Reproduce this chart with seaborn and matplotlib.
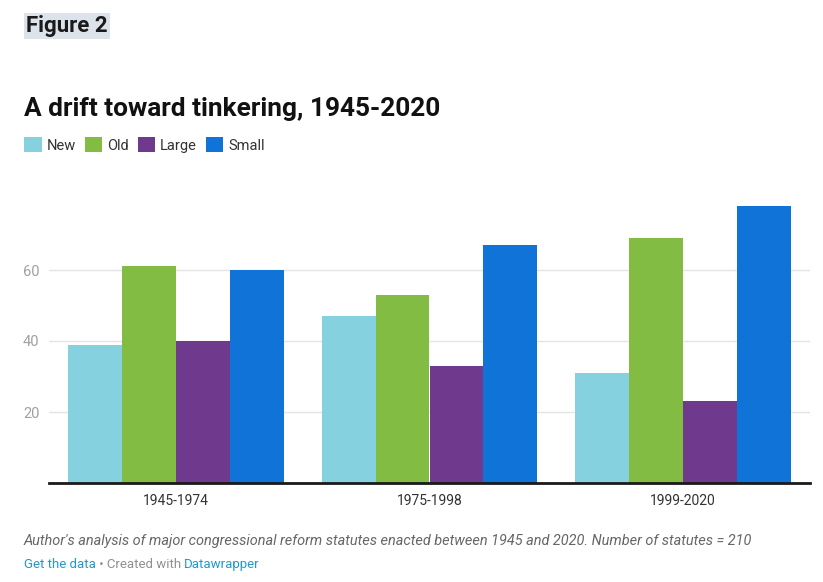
import matplotlib
matplotlib.use("Agg")
import matplotlib.pyplot as plt
import seaborn as sns
import pandas as pd
from matplotlib.patches import Patch

periods = ["1945-1974", "1975-1998", "1999-2020"]
series = ["New", "Old", "Large", "Small"]
new_vals = [39, 47, 31]
old_vals = [61, 53, 69]
large_vals = [40, 33, 23]
small_vals = [60, 67, 78]
colors = ["#86d1e0", "#82bc43", "#6f3a8e", "#1073d8"]
y_ticks = [20, 40, 60]

rows = []
for s, vals in zip(series, [new_vals, old_vals, large_vals, small_vals]):
    for p, v in zip(periods, vals):
        rows.append({"period": p, "series": s, "value": v})
df = pd.DataFrame(rows)

sns.set_theme(style="white")
plt.rcParams["font.family"] = ["Roboto", "DejaVu Sans"]

W, H = 823, 582
fig = plt.figure(figsize=(W / 100, H / 100), dpi=100)
ax = fig.add_axes([49 / W, (H - 483) / H, (810 - 49) / W, (483 - 199) / H])

sns.barplot(data=df, x="period", y="value", hue="series", hue_order=series,
            palette=colors, width=0.85, saturation=1, ax=ax, legend=False,
            errorbar=None, linewidth=0)

ax.set_xlim(-0.5, 2.5)
ax.set_ylim(0, 80)
ax.set_yticks(y_ticks)
ax.set_xlabel("")
ax.set_ylabel("")
for sp in ["top", "right", "left"]:
    ax.spines[sp].set_visible(False)
ax.spines["bottom"].set_color("#1a1a1a")
ax.spines["bottom"].set_linewidth(2)
ax.grid(axis="y", color="#e4e4e4", linewidth=1)
ax.set_axisbelow(True)
ax.tick_params(axis="y", length=0, labelsize=10.5, labelcolor="#a0a0a0", pad=7)
ax.tick_params(axis="x", length=0, labelsize=10, labelcolor="#333333", pad=8)

# header
fig.text(26 / W, 1 - 26 / H, "Figure 2", fontsize=16, fontweight="bold", color="#1a1a1a",
         va="center", ha="left",
         bbox=dict(boxstyle="square,pad=0.1", facecolor="#dde3ea", edgecolor="none"))
fig.text(24 / W, 1 - 116 / H, "A drift toward tinkering, 1945-2020", fontsize=18.9,
         fontweight="bold", color="#111111", va="baseline", ha="left")

handles = [Patch(facecolor=c, edgecolor="none", label=s) for s, c in zip(series, colors)]
fig.legend(handles=handles, loc="center left", bbox_to_anchor=(24 / W, 1 - 145 / H),
           ncol=4, frameon=False, fontsize=10.5, handlelength=1.2, handleheight=1.2,
           handletextpad=0.35, columnspacing=0.6, borderpad=0, borderaxespad=0,
           labelcolor="#333333")

# footer
fig.text(24 / W, 1 - 545 / H,
         "Author's analysis of major congressional reform statutes enacted between 1945 and 2020. Number of statutes = 210",
         fontsize=10.48, fontstyle="italic", color="#666666", va="baseline", ha="left")

fig.canvas.draw()
renderer = fig.canvas.get_renderer()
x = 24
for txt, col in [("Get the data", "#1d9bd1"), (" \u2022 Created with ", "#909090"), ("Datawrapper", "#1d9bd1")]:
    t = fig.text(x / W, 1 - 568 / H, txt, fontsize=9.5, color=col, va="baseline", ha="left")
    bb = t.get_window_extent(renderer)
    x += bb.width

fig.savefig("out.png", dpi=100)
